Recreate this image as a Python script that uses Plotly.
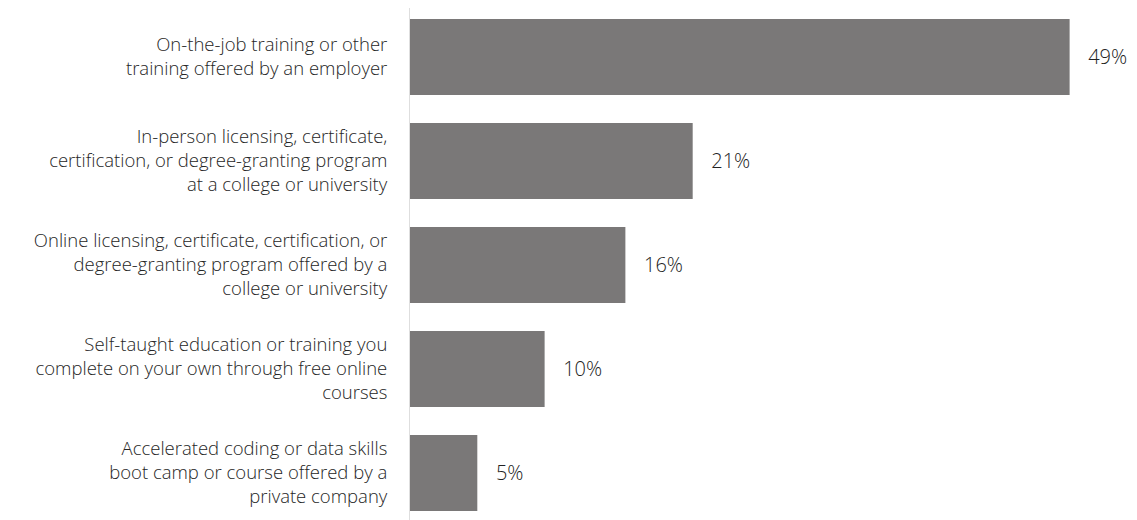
import plotly.graph_objects as go

categories = [
    "On-the-job training or other<br>training offered by an employer",
    "In-person licensing, certificate,<br>certification, or degree-granting program<br>at a college or university",
    "Online licensing, certificate, certification, or<br>degree-granting program offered by a<br>college or university",
    "Self-taught education or training you<br>complete on your own through free online<br>courses",
    "Accelerated coding or data skills<br>boot camp or course offered by a<br>private company",
]
values = [49, 21, 16, 10, 5]
labels = [f"{v}%" for v in values]

pos = list(range(len(categories)))

fig = go.Figure(go.Bar(
    x=values,
    y=pos,
    orientation="h",
    marker=dict(color="#7a7878", line=dict(width=0)),
    width=0.73,
    text=["\u00a0\u00a0\u00a0" + t for t in labels],
    textposition="outside",
    constraintext="none",
    textfont=dict(size=20, color="#222222", family="Open Sans", weight=300),
    cliponaxis=False,
    hoverinfo="skip",
))

fig.update_layout(
    width=1137,
    height=520,
    margin=dict(l=402, r=35, t=0, b=0, autoexpand=False),
    plot_bgcolor="white",
    paper_bgcolor="white",
    showlegend=False,
    font=dict(family="Open Sans", color="#222222"),
    xaxis=dict(range=[0, 52], showgrid=False, zeroline=False, showticklabels=False, showline=False, fixedrange=True),
    yaxis=dict(
        range=[4.529, -0.471],
        tickvals=pos,
        ticktext=categories,
        showgrid=False,
        zeroline=False,
        showline=True,
        linecolor="#dedede",
        linewidth=1,
        ticks="",
        ticklabelstandoff=18,
        tickfont=dict(size=18.5, color="#262626", family="Open Sans", weight=300),
    ),
)

fig.write_html("out.html")
